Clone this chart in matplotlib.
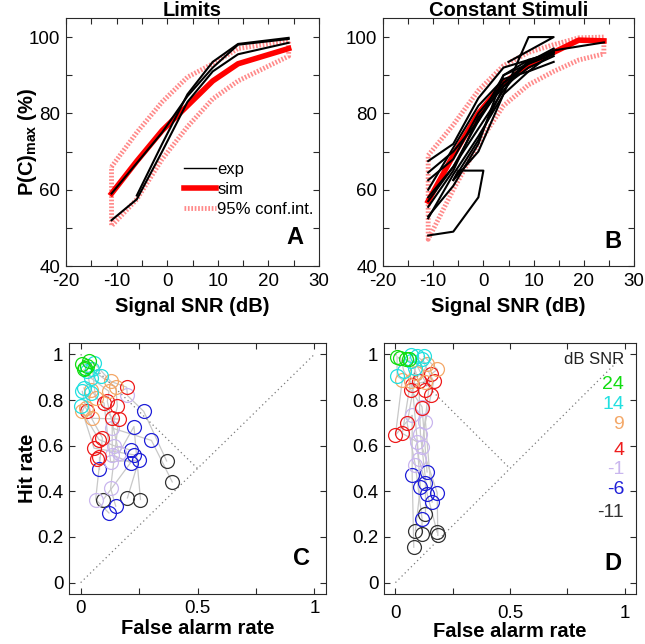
import numpy as np
import matplotlib
matplotlib.use('Agg')
import matplotlib.pyplot as plt
from matplotlib.ticker import MultipleLocator, FuncFormatter
from matplotlib.lines import Line2D

plt.rcParams['font.family'] = ['Liberation Sans', 'DejaVu Sans']
plt.rcParams['mathtext.fontset'] = 'custom'
plt.rcParams['mathtext.rm'] = 'Liberation Sans'
plt.rcParams['mathtext.bf'] = 'Liberation Sans:bold'
plt.rcParams['mathtext.it'] = 'Liberation Sans:italic'
plt.rcParams['axes.unicode_minus'] = False

# ---------------- data: panel A (Limits) ----------------
snr_A = [-11, -6, -1, 4, 9, 14, 24]
A_exp_x = [[-11, -6, -1, 4, 9, 14, 24],
           [-11, -6, -1, 4, 9, 14, 24],
           [-6, -1, 4, 9, 14, 24]]
A_exp_y = [[59, 67, 75, 84.5, 92, 98, 99.5],
           [52, 57.5, 70, 83, 91, 95.5, 98.5],
           [58.5, 72, 85, 93.5, 98.2, 99.8]]
A_sim = [59, 67.5, 75.5, 82, 88.5, 93, 97]
A_ci_hi = [66, 75, 83, 89.5, 93, 97, 99]
A_ci_lo = [50.5, 57.5, 68, 76.5, 83.8, 88.5, 95]

# ---------------- data: panel B (Constant Stimuli) ----------------
snr_B = [-11, -6, -1, 4, 9, 14, 19, 24]
B_sim = [57, 69, 80, 88, 92.5, 96, 99.2, 99]
B_ci_hi = [69, 77, 86, 92.5, 96, 98, 99.8, 100]
B_ci_lo = [47, 60, 72, 82, 87.5, 91, 94, 95.6]
B_exp_x = [[-11, -6, -1, 4, 9, 14],
           [-11, -6, -1, 4, 9, 14],
           [-11, -6, -1, 4, 9, 14],
           [-11, -6, -1, 4, 9, 14],
           [-11, -6, -1, 4, 9, 14],
           [-11, -6, -1, 4, 9, 14],
           [-11, -6, -1, 4, 9, 14],
           [-11, -6, -1, 0, -5, -6, -1, 4, 9, 14, 5],
           [-11, -6, -1, 4, 9, 14, 24],
           [-6, -1, 4, 9, 14],
           [-11, -6, -1, 4, 9]]
B_exp_y = [[67.5, 72, 84, 92, 94, 96],
           [64.5, 70, 78, 90, 93, 95.5],
           [62.5, 68, 80, 88, 93.5, 97],
           [60, 71, 82, 89, 91, 93.5],
           [58, 66, 76, 86, 94, 96],
           [55.5, 65, 79, 87, 92, 95],
           [52.5, 64, 74, 85, 91, 96],
           [48, 49, 58, 65, 65, 62.5, 70, 85, 100, 100, 93.5],
           [57, 66, 78, 88, 93, 96.5, 98.6],
           [62.5, 73, 87, 93.5, 96],
           [53, 61, 72, 90, 94]]

# ---------------- data: panels C and D (hit / false-alarm rates) ----------------
levels = ['24', '14', '9', '4', '-1', '-6', '-11']
level_colors = ['#11dd11', '#22e0e0', '#f4a868', '#ee1c1c', '#c9b6ee', '#1f1fd8', '#333333']
nan = np.nan

c24_fa  = [0.007, 0.028, 0.014, 0.036, 0.020, nan, nan, nan, nan, nan, nan, nan]
c24_hit = [0.956, 0.949, 0.934, 0.970, 0.940, nan, nan, nan, nan, nan, nan, nan]
c14_fa  = [0.057, 0.085, 0.043, 0.050, 0.028, 0.014, 0.007, 0.043, 0.000, nan, nan, nan]
c14_hit = [0.963, 0.905, 0.897, 0.935, 0.926, 0.853, 0.838, 0.830, 0.772, nan, nan, nan]
c9_fa   = [0.128, 0.150, 0.121, 0.064, 0.043, 0.050, 0.021, 0.007, nan, nan, nan, nan]
c9_hit  = [0.882, 0.857, 0.838, 0.809, 0.846, 0.720, 0.767, 0.750, nan, nan, nan, nan]
c4_fa   = [0.197, 0.157, 0.114, 0.100, 0.135, 0.163, 0.093, 0.078, 0.057, 0.078, 0.071, 0.028]
c4_hit  = [0.856, 0.772, 0.794, 0.787, 0.720, 0.717, 0.634, 0.627, 0.589, 0.552, 0.541, 0.750]
cm1_fa  = [0.200, 0.135, 0.164, 0.128, 0.135, 0.128, 0.064, 0.142, nan, nan, nan, nan]
cm1_hit = [0.820, 0.677, 0.567, 0.530, 0.560, 0.413, 0.364, 0.600, nan, nan, nan, nan]
cm6_fa  = [0.270, 0.303, 0.228, 0.249, 0.214, 0.150, 0.121, 0.214, 0.228, 0.078, nan, nan]
cm6_hit = [0.750, 0.623, 0.684, 0.537, 0.526, 0.335, 0.305, 0.581, 0.560, 0.496, nan, nan]
cm11_fa  = [0.368, 0.392, 0.256, 0.200, 0.097, nan, nan, nan, nan, nan, nan, nan]
cm11_hit = [0.533, 0.441, 0.364, 0.371, 0.364, nan, nan, nan, nan, nan, nan, nan]

d24_fa  = [0.007, 0.022, 0.044, 0.059, nan, nan, nan, nan, nan, nan, nan]
d24_hit = [0.990, 0.985, 0.978, 0.980, nan, nan, nan, nan, nan, nan, nan]
d14_fa  = [0.007, 0.037, 0.066, 0.070, 0.094, 0.124, 0.116, 0.087, nan, nan, nan]
d14_hit = [0.905, 0.926, 0.970, 0.999, 0.992, 0.992, 0.978, 0.941, nan, nan, nan]
d9_fa   = [0.030, 0.066, 0.090, 0.130, 0.138, 0.183, nan, nan, nan, nan, nan]
d9_hit  = [0.890, 0.882, 0.920, 0.880, 0.956, 0.934, nan, nan, nan, nan, nan]
d4_fa   = [0.000, 0.030, 0.051, 0.073, 0.102, 0.153, 0.167, 0.066, 0.153, 0.116, 0.131]
d4_hit  = [0.647, 0.654, 0.698, 0.868, 0.882, 0.912, 0.882, 0.846, 0.823, 0.765, 0.846]
dm1_fa  = [0.073, 0.094, 0.087, 0.102, 0.109, 0.116, 0.131, 0.116, nan, nan, nan]
dm1_hit = [0.733, 0.617, 0.514, 0.543, 0.653, 0.595, 0.704, 0.770, nan, nan, nan]
dm6_fa  = [0.073, 0.109, 0.116, 0.131, 0.138, 0.182, 0.160, 0.138, nan, nan, nan]
dm6_hit = [0.471, 0.420, 0.280, 0.435, 0.390, 0.394, 0.353, 0.485, nan, nan, nan]
dm11_fa  = [0.080, 0.087, 0.116, 0.131, 0.182, 0.185, nan, nan, nan, nan, nan]
dm11_hit = [0.155, 0.228, 0.214, 0.300, 0.221, 0.207, nan, nan, nan, nan, nan]

C_fa = [c24_fa, c14_fa, c9_fa, c4_fa, cm1_fa, cm6_fa, cm11_fa]
C_hit = [c24_hit, c14_hit, c9_hit, c4_hit, cm1_hit, cm6_hit, cm11_hit]
D_fa = [d24_fa, d14_fa, d9_fa, d4_fa, dm1_fa, dm6_fa, dm11_fa]
D_hit = [d24_hit, d14_hit, d9_hit, d4_hit, dm1_hit, dm6_hit, dm11_hit]

# ---------------- figure ----------------
fig = plt.figure(figsize=(6.45, 6.44), dpi=100)
W, H = 645, 644

def ax_at(l, t, r, b):
    return fig.add_axes([l / W, 1 - b / H, (r - l) / W, (b - t) / H])

axA = ax_at(66, 18, 319, 266)
axB = ax_at(383, 18, 634, 266)
axC = ax_at(69, 343, 326, 594)
axD = ax_at(384, 343, 636, 594)

spine_col = '#2a2a2a'
TICK_FS = 13.5
LAB_FS = 14.5

def style(ax, xpad=5):
    for s in ax.spines.values():
        s.set_color(spine_col)
        s.set_linewidth(0.8)
    ax.tick_params(which='both', direction='in', top=True, right=True,
                   color=spine_col, width=0.8, labelsize=TICK_FS)
    ax.tick_params(axis='x', which='both', pad=xpad)
    ax.tick_params(axis='y', which='both', pad=4)
    ax.tick_params(which='major', length=4)
    ax.tick_params(which='minor', length=4)

ci_col = '#ff8a8a'

def psy_panel(ax, snr, exp_x, exp_y, sim, hi, lo, title, letter, lx, ly, ylab):
    ci_x = list(snr) + list(snr[::-1]) + [snr[0]]
    ci_y = list(hi) + list(lo[::-1]) + [hi[0]]
    ax.plot(ci_x, ci_y, color=ci_col, lw=3.5, linestyle=(0, (0.35, 0.35)),
            solid_capstyle='butt', dash_capstyle='butt')
    ax.plot(snr, sim, color='#ff0000', lw=4)
    for xs, ys in zip(exp_x, exp_y):
        ax.plot(xs, ys, color='black', lw=1.5)
    ax.set_xlim(-20, 30)
    ax.set_ylim(40, 105)
    ax.xaxis.set_major_locator(MultipleLocator(10))
    ax.xaxis.set_minor_locator(MultipleLocator(5))
    ax.yaxis.set_major_locator(MultipleLocator(20))
    ax.yaxis.set_minor_locator(MultipleLocator(10))
    style(ax)
    ax.text(0.5, 1.0 + 2.5 / 248, title, transform=ax.transAxes, fontsize=LAB_FS,
            fontweight='bold', ha='center', va='baseline')
    ax.set_xlabel('Signal SNR (dB)', fontsize=LAB_FS, fontweight='bold', labelpad=5)
    if ylab:
        ax.set_ylabel(r'P(C)$_{\mathbf{max}}$ (%)', fontsize=LAB_FS, fontweight='bold', labelpad=-7)
    ax.text(lx, ly, letter, transform=ax.transAxes, fontsize=17, fontweight='bold',
            ha='center', va='center')

psy_panel(axA, snr_A, A_exp_x, A_exp_y, A_sim, A_ci_hi, A_ci_lo, 'Limits', 'A', 0.905, 0.113, True)
psy_panel(axB, snr_B, B_exp_x, B_exp_y, B_sim, B_ci_hi, B_ci_lo, 'Constant Stimuli', 'B', 0.917, 0.098, False)

handles = [Line2D([], [], color='black', lw=1.0),
           Line2D([], [], color='#ff0000', lw=4),
           Line2D([], [], color=ci_col, lw=3.5, linestyle=(0, (0.35, 0.35)))]
axA.legend(handles, ['exp', 'sim', '95% conf.int.'], loc='upper left',
           bbox_to_anchor=(0.44, 0.445), frameon=False, fontsize=12,
           handlelength=1.9, handletextpad=0.1, labelspacing=0.3, borderaxespad=0)

def roc_panel(ax, FA, HIT, letter, lx, ly, ylab, xpad, xlabpad):
    ax.plot([0, 1], [0, 1], color='#7a7a7a', lw=0.9, linestyle=(0, (1, 2.5)))
    ax.plot([0, 0.5], [1, 0.5], color='#7a7a7a', lw=0.9, linestyle=(0, (1, 2.5)))
    fa = np.array(FA, dtype=float)
    hit = np.array(HIT, dtype=float)
    for j in range(fa.shape[1]):
        m = ~np.isnan(fa[:, j])
        if m.sum() > 1:
            ax.plot(fa[m, j], hit[m, j], color='#c8c8c8', lw=0.9, zorder=1)
    for i in range(len(levels) - 1, -1, -1):
        m = ~np.isnan(fa[i])
        ax.plot(fa[i][m], hit[i][m], linestyle='none', marker='o', ms=10,
                mfc='none', mec=level_colors[i], mew=0.9, zorder=2)
    ax.set_xlim(-0.05, 1.05)
    ax.set_ylim(-0.05, 1.05)
    ax.xaxis.set_major_locator(MultipleLocator(0.5))
    ax.xaxis.set_minor_locator(MultipleLocator(0.25))
    ax.yaxis.set_major_locator(MultipleLocator(0.2))
    fmt = FuncFormatter(lambda v, p: '%g' % round(v, 2))
    ax.xaxis.set_major_formatter(fmt)
    ax.yaxis.set_major_formatter(fmt)
    style(ax, xpad=xpad)
    ax.set_xlabel('False alarm rate', fontsize=LAB_FS, fontweight='bold', labelpad=xlabpad)
    if ylab:
        ax.set_ylabel('Hit rate', fontsize=LAB_FS, fontweight='bold', labelpad=0)
    ax.text(lx, ly, letter, transform=ax.transAxes, fontsize=17, fontweight='bold',
            ha='center', va='center')

roc_panel(axC, C_fa, C_hit, 'C', 0.905, 0.142, True, 4, 2)
roc_panel(axD, D_fa, D_hit, 'D', 0.91, 0.122, False, 8, 0)

axD.text(1.0, 0.978, 'dB SNR', fontsize=12, ha='right', va='center', color='#222222')
legend_y = [0.868, 0.78, 0.691, 0.581, 0.497, 0.409, 0.309]
for lab, col, yy in zip(levels, level_colors, legend_y):
    axD.text(0.998, yy, lab, fontsize=14, ha='right', va='center', color=col)

fig.savefig('out.png', dpi=100)
